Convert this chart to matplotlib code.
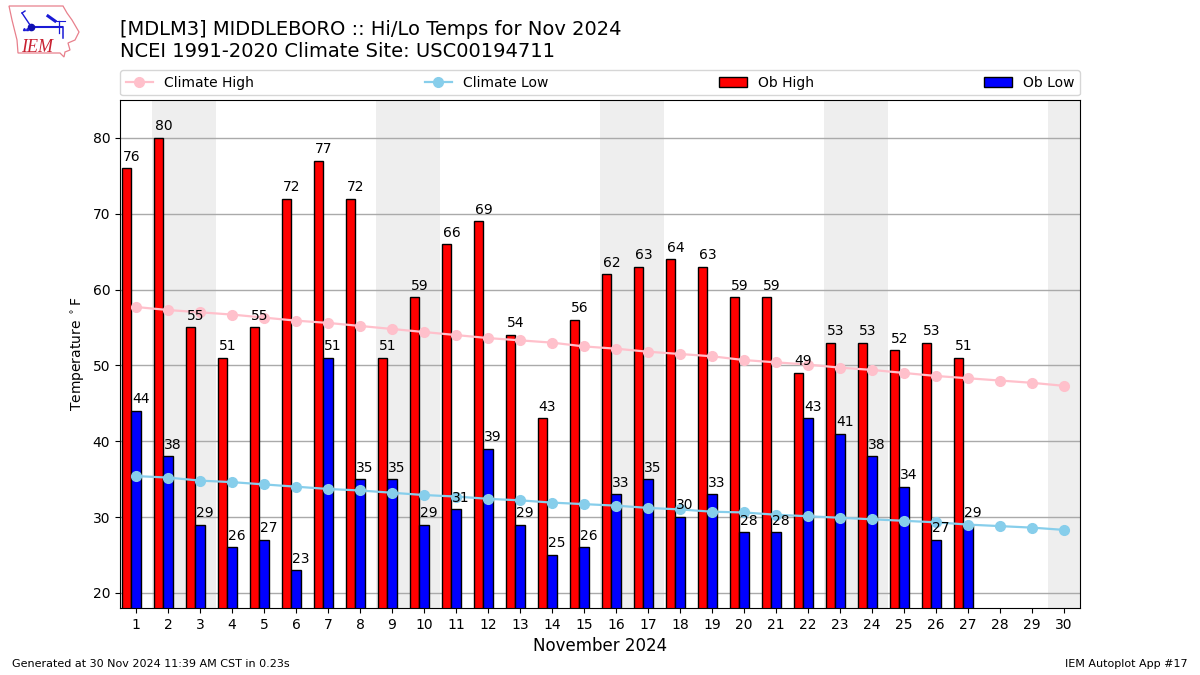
import matplotlib
matplotlib.use('Agg')
import matplotlib.pyplot as plt
from matplotlib.patches import Polygon

days = list(range(1, 31))
ob_high = [76, 80, 55, 51, 55, 72, 77, 72, 51, 59, 66, 69, 54, 43, 56, 62, 63, 64, 63, 59, 59, 49, 53, 53, 52, 53, 51]
ob_low = [44, 38, 29, 26, 27, 23, 51, 35, 35, 29, 31, 39, 29, 25, 26, 33, 35, 30, 33, 28, 28, 43, 41, 38, 34, 27, 29]
climate_high = [57.7, 57.3, 57.0, 56.7, 56.3, 55.9, 55.6, 55.2, 54.8, 54.4,
                54.0, 53.6, 53.3, 53.0, 52.5, 52.2, 51.8, 51.5, 51.2, 50.7,
                50.4, 50.1, 49.7, 49.4, 49.0, 48.6, 48.3, 48.0, 47.7, 47.3]
climate_low = [35.4, 35.2, 34.8, 34.6, 34.3, 34.0, 33.7, 33.5, 33.2, 32.9,
               32.7, 32.4, 32.2, 31.9, 31.7, 31.5, 31.2, 31.0, 30.7, 30.6,
               30.3, 30.1, 29.9, 29.7, 29.5, 29.3, 29.0, 28.8, 28.6, 28.3]
weekends = [(2, 3), (9, 10), (16, 17), (23, 24), (30, 30)]

fig = plt.figure(figsize=(12, 6.75), dpi=100)
ax = fig.add_axes([0.1, 1 - 608 / 675, 0.8, 508 / 675])

for beg, end in weekends:
    ax.axvspan(beg - 0.5, end + 0.5, color='#eeeeee', lw=0, zorder=0)

ax.bar([d - 0.3 for d in days[:len(ob_high)]], ob_high, width=0.3, color='r', edgecolor='k', lw=1,
       label='Ob High', zorder=2)
ax.bar(days[:len(ob_low)], ob_low, width=0.3, color='b', edgecolor='k', lw=1,
       label='Ob Low', zorder=2)
ax.plot(days, climate_high, color='pink', marker='o', ms=7, lw=1.6, label='Climate High', zorder=3)
ax.plot(days, climate_low, color='skyblue', marker='o', ms=7, lw=1.6, label='Climate Low', zorder=3)

for d, val in zip(days, ob_high):
    ax.text(d - 0.42, val + 0.6, str(val), ha='left', va='bottom', fontsize=10, zorder=4)
for d, val in zip(days, ob_low):
    ax.text(d - 0.12, val + 0.6, str(val), ha='left', va='bottom', fontsize=10, zorder=4)

ax.set_xlim(0.5, 30.5)
ax.set_ylim(18, 85)
ax.set_xticks(days)
ax.set_yticks(range(20, 81, 10))
ax.yaxis.grid(True, color='#aaaaaa', lw=1, zorder=1)
ax.set_axisbelow(True)
ax.set_xlabel('November 2024', fontsize=12)
ax.set_ylabel(r'Temperature $^\circ$F')

handles, labels = ax.get_legend_handles_labels()
order = [labels.index(n) for n in ('Climate High', 'Climate Low', 'Ob High', 'Ob Low')]
ax.legend([handles[i] for i in order], [labels[i] for i in order], ncol=4, mode='expand',
          loc='lower left', bbox_to_anchor=(0, 1.009, 1, 0.05), borderaxespad=0)

fig.text(0.1, 0.909, '[MDLM3] MIDDLEBORO :: Hi/Lo Temps for Nov 2024\nNCEI 1991-2020 Climate Site: USC00194711',
         fontsize=14, va='bottom', ha='left', linespacing=1.2)
fig.text(0.01, 0.0125, 'Generated at 30 Nov 2024 11:39 AM CST in 0.23s', fontsize=8)
fig.text(0.99, 0.0125, 'IEM Autoplot App #17', fontsize=8, ha='right')

# logo, drawn in pixel coordinates of the top left corner
logo = fig.add_axes([0, 1 - 60 / 675, 80 / 1200, 60 / 675])
logo.set_xlim(0, 80)
logo.set_ylim(60, 0)
logo.axis('off')
outline = [(9, 6), (63, 6), (67, 13), (72, 20), (79, 32), (75, 40), (68, 43), (70, 50), (65, 52),
           (64, 57), (60, 53), (18, 53), (17, 40), (12, 20)]
logo.add_patch(Polygon(outline, closed=True, fill=False, ec='#e8808c', lw=0.9))
blue = '#1a1ad6'
logo.plot([31, 62], [27, 27], color=blue, lw=1.5)
logo.plot([31], [27], 'o', color='#1010b0', ms=4.5)
logo.plot([22, 30], [13, 25], color=blue, lw=1)
logo.plot([22, 25], [13, 11], color=blue, lw=1)
logo.plot([48, 55], [16, 21], color=blue, lw=2.2)
logo.plot([55, 65], [21, 21], color=blue, lw=0.8)
logo.plot([59, 59], [21, 33], color=blue, lw=0.9)
logo.plot([63, 63], [27, 38], color=blue, lw=1.1)
logo.plot([24, 27], [29, 29], '^', color=blue, ms=1.5)
logo.text(21.5, 52, 'IEM', color='#c82030', fontsize=13, family='Liberation Serif', style='italic', va='baseline')

fig.savefig('out.png', dpi=100)
